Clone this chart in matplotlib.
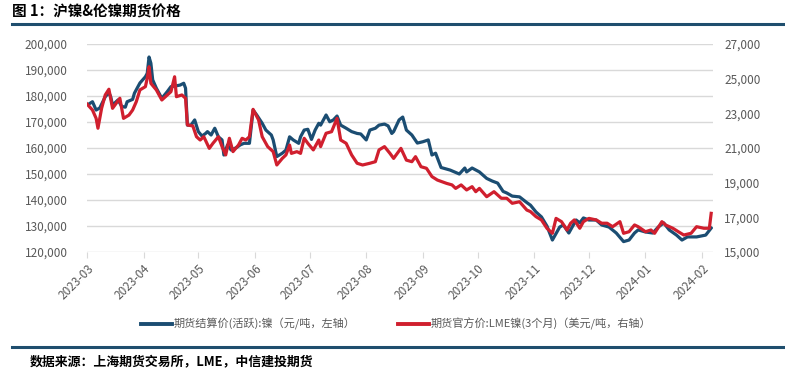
import numpy as np
import pandas as pd
import matplotlib
matplotlib.use("Agg")
import matplotlib.pyplot as plt
import matplotlib.dates as mdates
from matplotlib.ticker import FuncFormatter, MultipleLocator, FixedLocator

plt.rcParams['font.family'] = ['Noto Sans CJK SC', 'DejaVu Sans']

# SHFE nickel settlement price (CNY/t), days counted from 2023-03-01
shfe_day = [1, 3, 5, 7, 10, 12, 13, 14, 17, 19, 21, 22, 25, 26, 29, 32, 33, 34, 35, 36,
            38, 39, 41, 44, 46, 48, 51, 53, 54, 55, 57, 59, 61, 63, 65, 66, 68, 70, 72, 74,
            75, 77, 79, 82, 84, 86, 89, 91, 93, 96, 98, 101, 102, 104, 107, 109, 111, 113, 116, 117,
            119, 121, 123, 125, 127, 128, 131, 133, 135, 137, 139, 142, 145, 148, 150, 153, 155, 158, 160, 163,
            165, 167, 168, 171, 173, 175, 178, 181, 184, 187, 189, 191, 194, 199, 204, 207, 208, 211, 215, 219,
            222, 225, 228, 230, 233, 237, 241, 243, 246, 249, 252, 255, 259, 261, 264, 268, 270, 272, 275, 279,
            282, 286, 290, 294, 297, 300, 302, 306, 310, 313, 316, 319, 323, 326, 329, 334, 339, 342]
shfe_price = [176900, 177800, 174600, 175400, 179700, 181300, 179700, 176500, 178500, 176000,
              175700, 177800, 178700, 181100, 185000, 187400, 188700, 195000, 192600, 186200,
              183000, 181700, 179100, 181700, 183600, 183800, 184200, 184900, 183000, 168800,
              168800, 170800, 166300, 164600, 165600, 166300, 165000, 167600, 164300, 163100,
              157300, 161200, 159200, 160200, 161200, 161800, 161800, 174600, 172700, 169500,
              166900, 165000, 163100, 156700, 158000, 159200, 164300, 163100, 161800, 164300,
              166900, 167200, 163300, 166900, 169500, 168800, 172700, 170100, 170800, 172300,
              168800, 167600, 166300, 165600, 165400, 163100, 166900, 167600, 168800, 169200,
              168500, 165600, 166300, 170800, 171900, 166900, 165000, 161900, 162400, 163100,
              157300, 158000, 152500, 151500, 150000, 152300, 150800, 152300, 150800, 148300,
              147300, 146500, 143300, 142700, 141500, 141200, 139000, 138000, 135400, 133500,
              130000, 124600, 129600, 130400, 127300, 132300, 131200, 133100, 132300, 132300,
              130400, 129600, 127300, 124000, 124600, 127300, 128500, 127700, 127300, 129600,
              131200, 128500, 126500, 124600, 125800, 125800, 126500, 129200]

# LME 3M nickel official price (USD/t), days counted from 2023-03-01
lme_day = [0, 3, 5, 6, 8, 10, 12, 14, 16, 18, 20, 23, 25, 27, 29, 32, 33, 34, 35, 38,
           41, 44, 46, 48, 49, 52, 54, 55, 58, 60, 62, 64, 67, 69, 72, 74, 76, 78, 80, 83,
           85, 87, 89, 91, 94, 96, 99, 102, 104, 107, 109, 111, 112, 115, 117, 119, 121, 124, 127, 128,
           131, 134, 137, 139, 142, 145, 148, 151, 155, 158, 160, 163, 166, 168, 172, 175, 178, 180, 183, 186,
           189, 192, 197, 200, 202, 205, 208, 211, 213, 215, 219, 223, 227, 230, 233, 237, 241, 243, 246, 249,
           252, 255, 257, 260, 263, 265, 267, 270, 272, 275, 279, 282, 285, 288, 292, 294, 297, 300, 302, 306,
           309, 311, 315, 317, 321, 324, 327, 331, 334, 338, 341, 342]
lme_price = [23540, 23190, 22710, 22140, 23290, 24060, 24390, 23290, 23580, 23870,
             22710, 22900, 23190, 23670, 24350, 24540, 25020, 25690, 24730, 24350,
             23770, 24060, 24250, 25110, 23960, 24060, 23870, 22330, 22270, 21650,
             21460, 21650, 20980, 21270, 21650, 21080, 20600, 21560, 20790, 21170,
             21560, 21460, 21650, 23230, 22620, 21650, 21080, 20790, 20020, 20400,
             20600, 21170, 20690, 20790, 20690, 21560, 21270, 20890, 21460, 21080,
             21850, 21940, 22710, 21460, 21270, 20600, 20120, 20020, 20120, 20210,
             20890, 21080, 20690, 20400, 20980, 20300, 20210, 20500, 19920, 19830,
             19350, 19150, 18960, 18870, 18670, 18870, 18580, 18770, 18480, 18670,
             18190, 18480, 18100, 18100, 17810, 17900, 17420, 17330, 17040, 16850,
             16370, 16080, 16940, 16750, 16270, 16660, 16850, 16370, 16750, 16940,
             16850, 16660, 16660, 16460, 16750, 16080, 16170, 16560, 16460, 16170,
             16270, 16080, 16750, 16560, 16370, 16170, 15980, 16080, 16460, 16370,
             16370, 17230]

month_ticks = pd.date_range('2023-03-01', '2024-02-01', freq='MS')
left_ticks = list(range(120000, 200001, 10000))
right_ticks = list(range(15000, 27001, 2000))
shfe_label = '期货结算价(活跃):镍（元/吨，左轴）'
lme_label = '期货官方价:LME镍(3个月)（美元/吨，右轴）'
title = '图 1：沪镍&伦镍期货价格'
source = '数据来源：上海期货交易所，LME，中信建投期货'

start = pd.Timestamp('2023-03-01')
shfe_dates = start + pd.to_timedelta(shfe_day, unit='D')
lme_dates = start + pd.to_timedelta(lme_day, unit='D')

blue = '#1b4d72'
red = '#d01f2e'
gray = '#595959'
grid = '#d9d9d9'

fig = plt.figure(figsize=(7.85, 3.74), dpi=100)
ax = fig.add_axes([87 / 785, 1 - 252 / 374, 626 / 785, 208 / 374])
ax2 = ax.twinx()

ax.plot(shfe_dates, shfe_price, color=blue, lw=2.3, solid_joinstyle='round')
ax2.plot(lme_dates, lme_price, color=red, lw=2.3, solid_joinstyle='round')

ax.set_ylim(left_ticks[0], left_ticks[-1])
ax.yaxis.set_major_locator(FixedLocator(left_ticks))
ax2.set_ylim(right_ticks[0], right_ticks[-1])
ax2.yaxis.set_major_locator(FixedLocator(right_ticks))
fmt = FuncFormatter(lambda v, p: f'{v:,.0f}')
ax.yaxis.set_major_formatter(fmt)
ax2.yaxis.set_major_formatter(fmt)

ax.set_xlim(start, start + pd.Timedelta(days=343))
ax.set_xticks(month_ticks)
ax.xaxis.set_major_formatter(mdates.DateFormatter('%Y-%m'))
plt.setp(ax.get_xticklabels(), rotation=45, ha='right', rotation_mode='anchor')

ax.grid(axis='y', color=grid, lw=1)
ax.set_axisbelow(True)
for a in (ax, ax2):
    for s in ('top', 'left', 'right', 'bottom'):
        a.spines[s].set_visible(False)
ax.tick_params(axis='y', length=0, labelsize=8.5, labelcolor=gray, pad=14)
ax2.tick_params(axis='y', length=0, labelsize=8.5, labelcolor=gray, pad=8)
ax.tick_params(axis='x', length=4, color=grid, labelsize=8.5, labelcolor=gray, pad=3)

handles = [plt.Line2D([], [], color=blue, lw=2.8), plt.Line2D([], [], color=red, lw=2.8)]
fig.legend(handles, [shfe_label, lme_label], loc='center', bbox_to_anchor=(0.505, 1 - 324 / 374),
           ncol=2, frameon=False, fontsize=8, labelcolor=gray, handlelength=2.8,
           handletextpad=0.15, columnspacing=3.8)

fig.text(12 / 785, 1 - 12 / 374, title, fontsize=10.5, fontweight='bold', va='center', ha='left')
fig.add_artist(plt.Line2D([12 / 785, 1], [1 - 24 / 374] * 2, color='#1f4e6e', lw=2.2))
fig.add_artist(plt.Line2D([12 / 785, 1], [1 - 347 / 374] * 2, color='#1f4e6e', lw=2.2))
fig.text(30 / 785, 1 - 362 / 374, source, fontsize=9.3, fontweight='bold', style='italic',
         va='center', ha='left')

fig.savefig('out.png', dpi=100)
